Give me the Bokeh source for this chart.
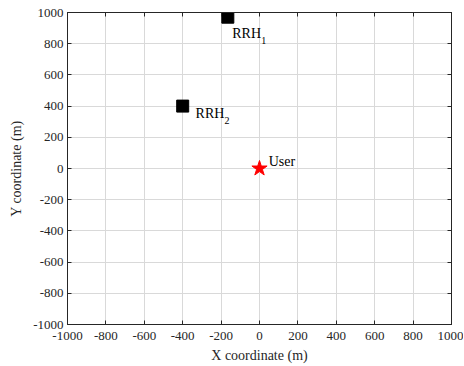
from bokeh.plotting import figure
from bokeh.models import FixedTicker, LinearAxis, ColumnDataSource, CustomJSTickFormatter
from bokeh.core.properties import value
from bokeh.embed import file_html
from bokeh.resources import INLINE

# Data
rrh_x = [-165, -400]
rrh_y = [970, 400]
rrh_label = ["RRH", "RRH"]
rrh_sub = ["1", "2"]
rrh_label_x = [-142, -333]
rrh_label_y = [865, 353]
user_x = [0]
user_y = [0]
user_label = ["User"]
user_label_x = [48]
user_label_y = [45]
ticks = [-1000, -800, -600, -400, -200, 0, 200, 400, 600, 800, 1000]

FONT = "Liberation Serif"
AX_COL = "#262626"

p = figure(frame_width=384, frame_height=312, x_range=(-1000, 1000), y_range=(-1000, 1000),
           x_axis_location=None, y_axis_location=None,
           output_backend="svg", toolbar_location=None,
           min_border_left=67, min_border_right=12, min_border_top=12, min_border_bottom=4)
p.background_fill_color = "white"
p.border_fill_color = "white"
p.outline_line_color = AX_COL
p.outline_line_width = 1


def make_axis(label, show_labels, tick_standoff, label_standoff):
    ax = LinearAxis(
        ticker=FixedTicker(ticks=ticks),
        formatter=CustomJSTickFormatter(code="return String(tick);"),
        axis_label=label,
        major_tick_in=4, major_tick_out=0,
        minor_tick_line_color=None,
        axis_line_color=AX_COL, major_tick_line_color=AX_COL,
        major_label_text_font=FONT,
        major_label_text_font_size="13px" if show_labels else "1px",
        major_label_text_color=AX_COL if show_labels else None,
        major_label_standoff=tick_standoff,
        axis_label_text_font=FONT,
        axis_label_text_font_size="14px",
        axis_label_text_font_style="normal",
        axis_label_text_color=AX_COL,
        axis_label_standoff=label_standoff,
    )
    return ax


p.add_layout(make_axis("X coordinate (m)", True, 7, 5), "below")
p.add_layout(make_axis("Y coordinate (m)", True, 4, 6), "left")
p.add_layout(make_axis(None, False, 0, 0), "above")
p.add_layout(make_axis(None, False, 0, 0), "right")

p.xgrid.ticker = FixedTicker(ticks=ticks)
p.ygrid.ticker = FixedTicker(ticks=ticks)
p.xgrid.grid_line_color = "#d9d9d9"
p.ygrid.grid_line_color = "#d9d9d9"

rrh = ColumnDataSource(dict(x=rrh_x, y=rrh_y, lx=rrh_label_x, ly=rrh_label_y,
                            label=rrh_label, sub=rrh_sub))
p.scatter("x", "y", source=rrh, marker="square", size=12, fill_color="black", line_color="black")
p.text("lx", "ly", text="label", source=rrh, text_font=value(FONT), text_font_size="14px",
       text_baseline="middle", text_align="left", text_color="black")
p.text("lx", "ly", text="sub", source=rrh, text_font=value(FONT), text_font_size="10px",
       text_baseline="middle", text_align="left", text_color="black", x_offset=29, y_offset=7)

usr = ColumnDataSource(dict(x=user_x, y=user_y, lx=user_label_x, ly=user_label_y, label=user_label))
p.scatter("x", "y", source=usr, marker="star", size=16, fill_color="red", line_color="red")
p.text("lx", "ly", text="label", source=usr, text_font=value(FONT), text_font_size="14px",
       text_baseline="middle", text_align="left", text_color="black")

open("out.html", "w").write(file_html(p, INLINE))
